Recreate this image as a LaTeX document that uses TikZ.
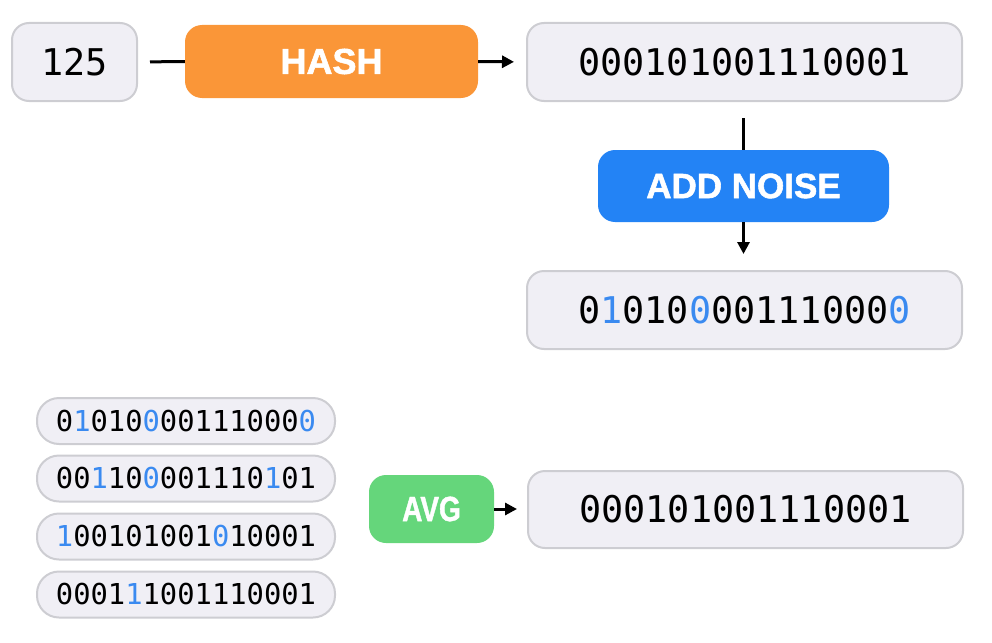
\documentclass[tikz,border=0pt]{standalone}
\usepackage{fontspec}
\setmainfont{Liberation Sans}
\newfontfamily\monof{DejaVu Sans Mono}
\newfontfamily\boldf{Liberation Sans}[BoldFeatures={FakeBold=1.6}]
\newfontfamily\narrowf{Liberation Sans}[FakeStretch=0.8, BoldFeatures={FakeBold=1.2}]
\usetikzlibrary{arrows.meta}
\definecolor{boxfill}{HTML}{F0EFF5}
\definecolor{boxline}{HTML}{CDCDD2}
\definecolor{hashc}{HTML}{FA9638}
\definecolor{noisec}{HTML}{2383F5}
\definecolor{avgc}{HTML}{65D67B}
\definecolor{bitc}{HTML}{3A8AF0}
\newcommand{\bb}[1]{\textcolor{bitc}{#1}}
\tikzset{
  x=1pt,y=-1pt,
  valbox/.style={draw=boxline, fill=boxfill, line width=2pt, rounded corners=17pt,
    inner sep=0pt, font=\monof\fontsize{36.8}{40}\selectfont},
  pillbox/.style={draw=boxline, fill=boxfill, line width=2pt, rounded corners=22pt,
    minimum width=298pt, minimum height=46pt, inner sep=0pt,
    font=\monof\fontsize{28.8}{32}\selectfont},
  opbox/.style={rounded corners=17pt, inner sep=0pt, text=white},
  conn/.style={line width=3pt},
  arr/.style={line width=3pt, -{Triangle[length=12pt,width=12pt]}},
}
\begin{document}
\begin{tikzpicture}
\useasboundingbox (0,0) rectangle (992,642);
\node[valbox, minimum width=125pt, minimum height=78pt] (n125) at (74.5,62) {125};
\node[opbox, fill=hashc, minimum width=293pt, minimum height=73pt,
  font=\boldf\bfseries\fontsize{36}{40}\selectfont] (hash) at (331.5,61.5) {HASH};
\node[valbox, minimum width=435pt, minimum height=78pt] (top) at (744.5,62) {000101001110001};
\node[opbox, fill=noisec, minimum width=291pt, minimum height=72pt,
  font=\boldf\bfseries\fontsize{35}{40}\selectfont] (noise) at (743.5,186) {ADD NOISE};
\node[valbox, minimum width=435pt, minimum height=78pt] (noised) at (744.5,310) {0\bb{1}010\bb{0}00111000\bb{0}};

\node[pillbox] (p1) at (186,421) {0\bb{1}010\bb{0}00111000\bb{0}};
\node[pillbox] (p2) at (186,478.5) {00\bb{1}10\bb{0}001110\bb{1}01};
\node[pillbox] (p3) at (186,536.5) {\bb{1}00101001\bb{0}10001};
\node[pillbox] (p4) at (186,594.5) {0001\bb{1}1001110001};

\node[opbox, fill=avgc, minimum width=125pt, minimum height=68pt,
  font=\narrowf\bfseries\fontsize{35}{40}\selectfont] (avg) at (431.5,509) {AVG};
\node[valbox, minimum width=435pt, minimum height=77pt] (res) at (745.5,509.5) {000101001110001};

\draw[conn, shorten <=12pt] (n125.east) -- (hash.west);
\draw[arr, shorten >=12pt] (hash.east) -- (top.west);
\draw[conn, shorten <=16pt] (top.south -| noise.north) -- (noise.north);
\draw[arr, shorten >=16pt] (noise.south) -- (noise.south |- noised.north);
\draw[arr, shorten >=10pt] (avg.east) -- (avg.east -| res.west);
\end{tikzpicture}
\end{document}
